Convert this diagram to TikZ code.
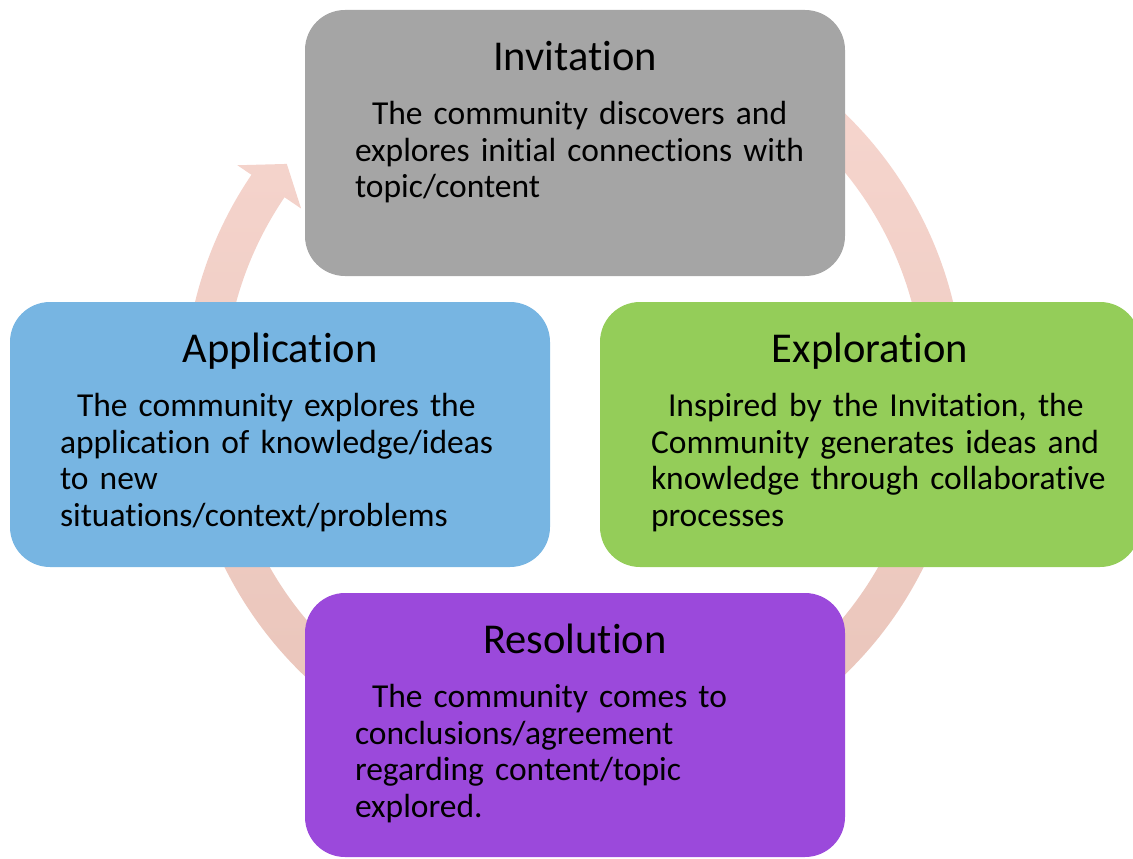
\documentclass[tikz,border=0pt]{standalone}
\usepackage{fontspec}
\setmainfont{Carlito}[Ligatures=NoCommon]
\usetikzlibrary{calc}

\definecolor{invgray}{HTML}{A5A5A5}
\definecolor{appblue}{HTML}{77B5E2}
\definecolor{expgreen}{HTML}{94CD59}
\definecolor{respurple}{HTML}{9B49DB}
\definecolor{ringtop}{HTML}{F7D7D0}
\definecolor{ringbot}{HTML}{E8C3B8}

\tikzset{
  stagebox/.style={rectangle, rounded corners=40pt, minimum width=540pt,
    minimum height=265pt, inner sep=0pt, draw=none},
  stagetitle/.style={font=\fontsize{42.5}{50}\selectfont, inner sep=0pt, anchor=base},
  stagebody/.style={font=\fontsize{33.5}{36.5}\selectfont, inner sep=0pt,
    text width=490pt, align=left, anchor=base west},
}

\begin{document}
\begin{tikzpicture}[x=1pt, y=1pt]
\useasboundingbox (0,0) rectangle (1133,-859);
\clip (0,0) rectangle (1133,-859);

% cycle ring with its arrowhead, behind the four stages
\coordinate (C) at (574,-394);
\shade[top color=ringtop, bottom color=ringbot]
  ($(C)+(80:390)$) arc[start angle=80, end angle=-214.2, radius=390pt]
  -- ($(C)+(145.8:407)$) -- ($(C)+(141.3:368)$) -- ($(C)+(145.8:330)$)
  -- ($(C)+(145.8:350)$) arc[start angle=145.8, end angle=440, radius=350pt]
  -- cycle;

% the four stages
\node[stagebox, fill=invgray, minimum height=266pt] (inv) at (575,-143) {};
\node[stagebox, fill=appblue] (app) at (280,-434.5) {};
\node[stagebox, fill=expgreen] (exp) at (870,-434.5) {};
\node[stagebox, fill=respurple, minimum height=264pt] (res) at (575,-725) {};

% titles
\node[stagetitle] (inv-t) at ($(inv.north)+(0,-61)$) {Invitation};
\node[stagetitle] (app-t) at ($(app.north)+(0,-61)$) {Application};
\node[stagetitle] (exp-t) at ($(exp.north)+(0,-61)$) {Exploration};
\node[stagetitle] (res-t) at ($(res.north)+(0,-61)$) {Resolution};

% descriptions
\node[stagebody] (inv-b) at ($(inv.north west)+(50,-115)$)
  {\hspace*{17pt}The community discovers and\\explores initial connections with\\topic/content};
\node[stagebody] (app-b) at ($(app.north west)+(50,-115)$)
  {\hspace*{17pt}The community explores the\\application of knowledge/ideas\\to new\\situations/context/problems};
\node[stagebody] (exp-b) at ($(exp.north west)+(51,-115)$)
  {\hspace*{17pt}Inspired by the Invitation, the\\Community generates ideas and\\knowledge through collaborative\\processes};
\node[stagebody] (res-b) at ($(res.north west)+(50,-115)$)
  {\hspace*{17pt}The community comes to\\conclusions/agreement\\regarding content/topic\\explored.};
\end{tikzpicture}
\end{document}
